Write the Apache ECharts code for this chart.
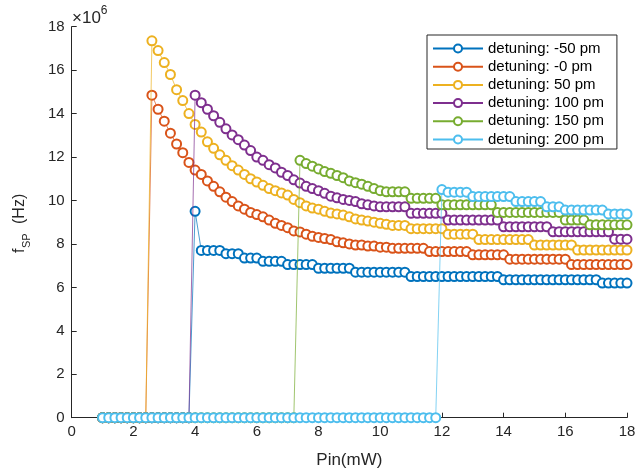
<!DOCTYPE html>
<html>
<head>
<meta charset="utf-8">
<script src="https://cdn.jsdelivr.net/npm/echarts@6/dist/echarts.min.js"></script>
<style>
  html, body { margin: 0; padding: 0; background: #fff; }
  #chart { width: 635px; height: 473px; }
</style>
</head>
<body>
<div id="chart"></div>
<script>
// Pin (mW) sample points shared by every curve
const pin = [
  1.0, 1.2, 1.4, 1.6, 1.8, 2.0, 2.2, 2.4, 2.6, 2.8,
  3.0, 3.2, 3.4, 3.6, 3.8, 4.0, 4.2, 4.4, 4.6, 4.8,
  5.0, 5.2, 5.4, 5.6, 5.8, 6.0, 6.2, 6.4, 6.6, 6.8,
  7.0, 7.2, 7.4, 7.6, 7.8, 8.0, 8.2, 8.4, 8.6, 8.8,
  9.0, 9.2, 9.4, 9.6, 9.8, 10.0, 10.2, 10.4, 10.6, 10.8,
  11.0, 11.2, 11.4, 11.6, 11.8, 12.0, 12.2, 12.4, 12.6, 12.8,
  13.0, 13.2, 13.4, 13.6, 13.8, 14.0, 14.2, 14.4, 14.6, 14.8,
  15.0, 15.2, 15.4, 15.6, 15.8, 16.0, 16.2, 16.4, 16.6, 16.8,
  17.0, 17.2, 17.4, 17.6, 17.8, 18.0
];

// f_SP in units of 1e6 Hz
const fMinus50 = [
  0, 0, 0, 0, 0, 0, 0, 0, 0, 0,
  0, 0, 0, 0, 0, 9.5, 7.7, 7.7, 7.7, 7.7,
  7.55, 7.55, 7.55, 7.35, 7.35, 7.35, 7.2, 7.2, 7.2, 7.2,
  7.05, 7.05, 7.05, 7.05, 7.05, 6.88, 6.88, 6.88, 6.88, 6.88,
  6.88, 6.7, 6.7, 6.7, 6.7, 6.7, 6.7, 6.7, 6.7, 6.7,
  6.5, 6.5, 6.5, 6.5, 6.5, 6.5, 6.5, 6.5, 6.5, 6.5,
  6.5, 6.5, 6.5, 6.5, 6.5, 6.35, 6.35, 6.35, 6.35, 6.35,
  6.35, 6.35, 6.35, 6.35, 6.35, 6.35, 6.35, 6.35, 6.35, 6.35,
  6.35, 6.2, 6.2, 6.2, 6.2, 6.2
];
const fZero = [
  0, 0, 0, 0, 0, 0, 0, 0, 14.85, 14.2,
  13.65, 13.1, 12.6, 12.2, 11.75, 11.4, 11.2, 10.9, 10.65, 10.4,
  10.15, 9.95, 9.75, 9.6, 9.45, 9.35, 9.25, 9.1, 8.95, 8.85,
  8.75, 8.6, 8.55, 8.45, 8.35, 8.3, 8.25, 8.2, 8.1, 8.05,
  8.0, 7.95, 7.95, 7.9, 7.9, 7.85, 7.85, 7.8, 7.8, 7.8,
  7.8, 7.8, 7.8, 7.65, 7.65, 7.65, 7.65, 7.65, 7.65, 7.65,
  7.5, 7.5, 7.5, 7.5, 7.5, 7.5, 7.3, 7.3, 7.3, 7.3,
  7.3, 7.3, 7.3, 7.3, 7.3, 7.3, 7.05, 7.05, 7.05, 7.05,
  7.05, 7.05, 7.05, 7.05, 7.05, 7.05
];
const f50 = [
  0, 0, 0, 0, 0, 0, 0, 0, 17.35, 16.9,
  16.35, 15.8, 15.1, 14.6, 14.0, 13.5, 13.15, 12.7, 12.4, 12.1,
  11.85, 11.6, 11.4, 11.2, 11.0, 10.85, 10.7, 10.55, 10.45, 10.35,
  10.25, 10.05, 9.9, 9.75, 9.65, 9.6, 9.5, 9.42, 9.38, 9.33,
  9.25, 9.15, 9.1, 9.05, 9.0, 8.95, 8.9, 8.85, 8.85, 8.85,
  8.7, 8.7, 8.7, 8.7, 8.7, 8.7, 8.45, 8.45, 8.45, 8.45,
  8.45, 8.2, 8.2, 8.2, 8.2, 8.2, 8.2, 8.2, 8.2, 8.2,
  7.95, 7.95, 7.95, 7.95, 7.95, 7.95, 7.95, 7.72, 7.72, 7.72,
  7.72, 7.72, 7.72, 7.72, 7.72, 7.72
];
const f100 = [
  0, 0, 0, 0, 0, 0, 0, 0, 0, 0,
  0, 0, 0, 0, 0, 14.85, 14.5, 14.2, 13.9, 13.6,
  13.3, 13.02, 12.8, 12.55, 12.3, 12.0, 11.85, 11.65, 11.5, 11.3,
  11.15, 10.95, 10.8, 10.65, 10.55, 10.45, 10.33, 10.2, 10.12, 10.05,
  10.0, 9.95, 9.85, 9.8, 9.75, 9.71, 9.71, 9.71, 9.71, 9.71,
  9.41, 9.41, 9.41, 9.41, 9.41, 9.41, 9.1, 9.1, 9.1, 9.1,
  9.1, 9.1, 9.1, 9.1, 9.1, 8.79, 8.79, 8.79, 8.79, 8.79,
  8.79, 8.79, 8.79, 8.56, 8.56, 8.56, 8.56, 8.56, 8.56, 8.56,
  8.56, 8.56, 8.56, 8.22, 8.22, 8.22
];
const f150 = [
  0, 0, 0, 0, 0, 0, 0, 0, 0, 0,
  0, 0, 0, 0, 0, 0, 0, 0, 0, 0,
  0, 0, 0, 0, 0, 0, 0, 0, 0, 0,
  0, 0, 11.85, 11.7, 11.58, 11.45, 11.33, 11.25, 11.15, 11.05,
  10.9, 10.82, 10.75, 10.65, 10.55, 10.45, 10.4, 10.4, 10.4, 10.4,
  10.1, 10.1, 10.1, 10.1, 10.1, 9.8, 9.8, 9.8, 9.8, 9.8,
  9.8, 9.8, 9.8, 9.8, 9.45, 9.45, 9.45, 9.45, 9.45, 9.45,
  9.45, 9.45, 9.45, 9.45, 9.45, 9.1, 9.1, 9.1, 9.1, 8.88,
  8.88, 8.88, 8.88, 8.88, 8.88, 8.88
];
const f200 = [
  0, 0, 0, 0, 0, 0, 0, 0, 0, 0,
  0, 0, 0, 0, 0, 0, 0, 0, 0, 0,
  0, 0, 0, 0, 0, 0, 0, 0, 0, 0,
  0, 0, 0, 0, 0, 0, 0, 0, 0, 0,
  0, 0, 0, 0, 0, 0, 0, 0, 0, 0,
  0, 0, 0, 0, 0, 10.5, 10.38, 10.38, 10.38, 10.38,
  10.18, 10.18, 10.18, 10.18, 10.18, 10.18, 10.18, 9.95, 9.95, 9.95,
  9.95, 9.95, 9.71, 9.71, 9.71, 9.56, 9.56, 9.56, 9.56, 9.56,
  9.56, 9.56, 9.38, 9.38, 9.38, 9.38
];

const seriesNames = [
  "detuning: -50 pm",
  "detuning: -0 pm",
  "detuning: 50 pm",
  "detuning: 100 pm",
  "detuning: 150 pm",
  "detuning: 200 pm",
];
const seriesValues = [fMinus50, fZero, f50, f100, f150, f200];
const colors = ["#0072BD", "#D95319", "#EDB120", "#7E2F8E", "#77AC30", "#4DBEEE"];
const xTicks = [0, 18, 2];
const yTicks = [0, 18, 2];

const FONT = "Liberation Sans, Arial, Helvetica, sans-serif";
const AXIS_COLOR = "#262626";

const chart = echarts.init(document.getElementById("chart"));

const series = seriesValues.map((vals, k) => ({
  name: seriesNames[k],
  type: "line",
  data: pin.map((x, i) => [x, vals[i]]),
  symbol: "emptyCircle",
  symbolSize: 9,
  clip: false,
  color: colors[k],
  lineStyle: { width: 0.7, color: colors[k] },
  itemStyle: { color: colors[k], borderColor: colors[k], borderWidth: 0.7 },
  emphasis: { disabled: true },
  z: 2 + k,
}));

const option = {
  animation: false,
  backgroundColor: "#fff",
  grid: {
    left: 71.7,
    right: 8,
    top: 26.7,
    bottom: 55.3,
    containLabel: false,
    outerBoundsMode: "none",
  },
  legend: {
    orient: "vertical",
    left: 427,
    top: 35,
    padding: [6, 13, 2, 5],
    itemWidth: 50,
    itemHeight: 10,
    itemGap: 3.2,
    backgroundColor: "#fff",
    borderColor: AXIS_COLOR,
    borderWidth: 1,
    borderRadius: 0,
    textStyle: { fontFamily: FONT, fontSize: 15, color: "#000" },
    data: seriesNames,
  },
  xAxis: {
    type: "value",
    min: xTicks[0],
    max: xTicks[1],
    interval: xTicks[2],
    name: "Pin(mW)",
    nameLocation: "middle",
    nameGap: 34,
    nameTextStyle: { fontFamily: FONT, fontSize: 17, color: AXIS_COLOR },
    axisLine: { lineStyle: { color: AXIS_COLOR, width: 1 } },
    axisTick: { inside: true, length: 5, lineStyle: { color: AXIS_COLOR } },
    axisLabel: { fontFamily: FONT, fontSize: 15, color: AXIS_COLOR, margin: 7 },
    splitLine: { show: false },
  },
  yAxis: {
    type: "value",
    min: yTicks[0],
    max: yTicks[1],
    interval: yTicks[2],
    axisLine: { show: true, lineStyle: { color: AXIS_COLOR, width: 1 } },
    axisTick: { show: true, inside: true, length: 5, lineStyle: { color: AXIS_COLOR } },
    axisLabel: { fontFamily: FONT, fontSize: 15, color: AXIS_COLOR, margin: 7 },
    splitLine: { show: false },
  },
  graphic: [
    {
      type: "text",
      left: 72,
      top: 5,
      style: {
        text: "{a|×10}{b|6}",
        rich: {
          a: { fontFamily: FONT, fontSize: 17, fill: AXIS_COLOR, padding: [7, 0, 0, 0] },
          b: { fontFamily: FONT, fontSize: 12, fill: AXIS_COLOR, padding: [0, 0, 7, 0] },
        },
      },
    },
    {
      type: "group",
      x: 20,
      y: 253,
      rotation: Math.PI / 2,
      children: [
        {
          type: "text",
          x: 0, y: 0,
          style: { text: "f", fontFamily: FONT, fontSize: 16, fill: AXIS_COLOR, verticalAlign: "middle" },
        },
        {
          type: "text",
          x: 5, y: 7,
          style: { text: "SP", fontFamily: FONT, fontSize: 11, fill: AXIS_COLOR, verticalAlign: "middle" },
        },
        {
          type: "text",
          x: 29, y: 0,
          style: { text: "(Hz)", fontFamily: FONT, fontSize: 16, fill: AXIS_COLOR, verticalAlign: "middle" },
        },
      ],
    },
  ],
  series: series,
};

chart.setOption(option);
</script>
</body>
</html>
